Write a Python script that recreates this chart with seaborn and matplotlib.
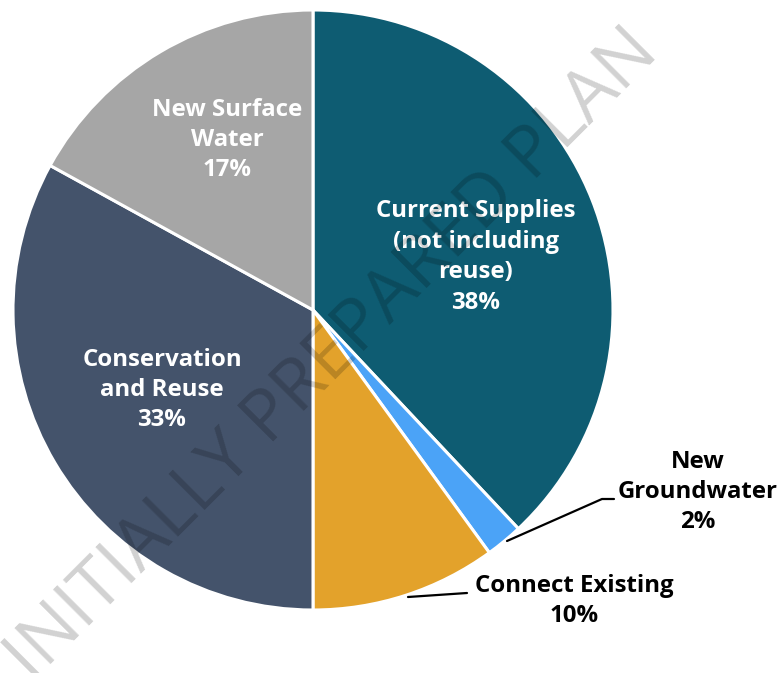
import matplotlib
matplotlib.use("Agg")
import matplotlib.pyplot as plt
import seaborn as sns

# data, clockwise from 12 o'clock
categories = ["Current Supplies\n(not including\nreuse)", "New\nGroundwater",
              "Connect Existing", "Conservation\nand Reuse", "New Surface\nWater"]
shares = [38, 2, 10, 33, 17]
colors = ["#0E5C72", "#4BA3F7", "#E3A22B", "#44536B", "#A6A6A6"]

sns.set_theme(style="white")
plt.rcParams["font.family"] = ["Open Sans", "DejaVu Sans"]

W, H = 783, 673
fig = plt.figure(figsize=(W / 100, H / 100), dpi=100)
ax = fig.add_axes([0, 0, 1, 1])

cx, cy, r = 313, H - 310, 300
wedges, _ = ax.pie(shares, colors=sns.color_palette(colors), startangle=90,
                   counterclock=False, center=(cx, cy), radius=r, frame=True,
                   wedgeprops=dict(edgecolor="white", linewidth=2.2))
ax.set_xlim(0, W)
ax.set_ylim(0, H)
ax.set_aspect("equal")
ax.axis("off")

# label anchors (pixel space, y measured from top)
label_pos = [(476, 257), (698, 492), (574, 601), (162, 390), (227, 140)]
inside = [True, False, False, True, True]
for cat, v, (x, y), inn in zip(categories, shares, label_pos, inside):
    ax.text(x, H - y, f"{cat}\n{v}%", ha="center", va="center",
            fontsize=17.3, fontweight="bold", linespacing=1.36,
            color="white" if inn else "black")

# leader lines
ax.plot([507, 602, 614], [H - 541, H - 499, H - 499], color="black", lw=1.6)
ax.plot([408, 467], [H - 597, H - 593], color="black", lw=1.6)

# watermark
ax.text(333, H - 356, "INITIALLY PREPARED PLAN", rotation=45,
        ha="center", va="center", fontsize=52,
        color="black", alpha=0.18, rotation_mode="anchor")

fig.savefig("out.png", dpi=100)
